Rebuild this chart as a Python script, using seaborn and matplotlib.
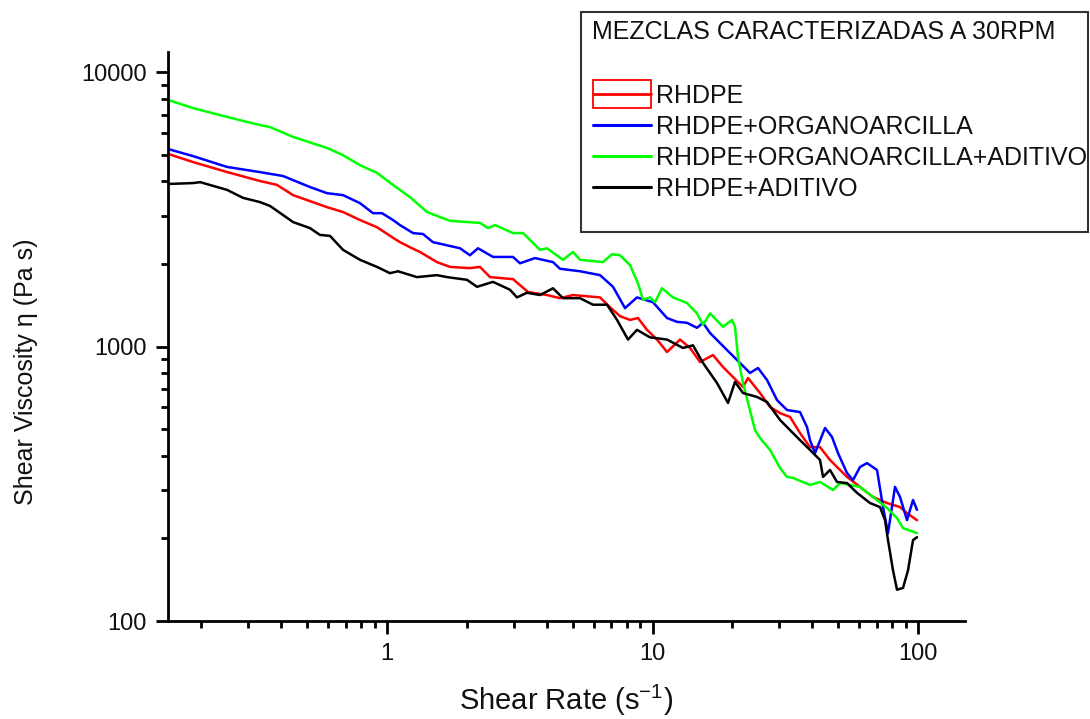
import numpy as np
import pandas as pd
import matplotlib
matplotlib.use("Agg")
import matplotlib.pyplot as plt
import seaborn as sns
from matplotlib.patches import Rectangle
from matplotlib.lines import Line2D
from matplotlib.legend_handler import HandlerBase
from matplotlib.ticker import LogLocator, NullFormatter, FixedLocator, FixedFormatter

# ---------------- data ----------------
legend_title = "MEZCLAS CARACTERIZADAS A 30RPM"
series_names = ["RHDPE", "RHDPE+ORGANOARCILLA", "RHDPE+ORGANOARCILLA+ADITIVO", "RHDPE+ADITIVO"]
series_colors = ["#FF0000", "#0000FF", "#00FF00", "#000000"]

rate_rhdpe = [0.150, 0.186, 0.250, 0.332, 0.385, 0.443, 0.594, 0.683, 0.791, 0.917, 1.053, 1.119, 1.221, 1.331,
              1.543, 1.727, 2.053, 2.240, 2.443, 2.982, 3.397, 4.005, 4.483, 5.018, 6.344, 6.919, 7.545, 8.228,
              8.817, 9.535, 10.40, 11.34, 12.70, 13.85, 15.10, 16.90, 18.43, 20.10, 21.92, 22.89, 25.41, 27.71,
              30.22, 32.96, 35.94, 39.19, 42.75, 46.62, 49.54, 54.02, 60.47, 67.69, 76.43, 85.55, 90.90, 99.13]
visc_rhdpe = [5030, 4700, 4320, 4010, 3880, 3560, 3220, 3090, 2890, 2720, 2490, 2400, 2300, 2210,
              2030, 1950, 1930, 1950, 1790, 1760, 1580, 1540, 1500, 1540, 1510, 1390, 1290, 1250,
              1270, 1150, 1060, 955, 1060, 988, 878, 931, 842, 774, 712, 768, 677, 602,
              572, 554, 484, 430, 430, 386, 364, 335, 308, 283, 269, 260, 247, 233]

rate_org = [0.150, 0.186, 0.250, 0.332, 0.406, 0.513, 0.594, 0.683, 0.791, 0.886, 0.958, 1.053, 1.119, 1.253,
            1.366, 1.490, 1.884, 2.053, 2.202, 2.508, 2.982, 3.169, 3.609, 4.219, 4.483, 5.333, 6.344, 7.102,
            7.879, 8.741, 10.04, 11.34, 12.37, 13.49, 14.71, 15.50, 16.47, 19.08, 21.36, 23.29, 24.97, 27.00,
            29.44, 32.11, 35.94, 38.18, 39.19, 40.94, 44.65, 47.44, 49.97, 54.02, 56.90, 60.47, 64.26, 70.08,
            73.83, 77.09, 81.91, 85.55, 90.90, 95.76, 99.13]
visc_org = [5240, 4940, 4510, 4320, 4180, 3810, 3620, 3560, 3330, 3060, 3060, 2890, 2770, 2590,
            2570, 2400, 2280, 2150, 2280, 2120, 2120, 2010, 2100, 2030, 1920, 1880, 1820, 1650,
            1380, 1510, 1450, 1270, 1230, 1220, 1170, 1220, 1120, 971, 871, 801, 835, 755,
            638, 587, 577, 509, 456, 409, 505, 468, 409, 346, 326, 364, 376, 355,
            260, 209, 308, 283, 233, 276, 254]

rate_org_ad = [0.150, 0.186, 0.250, 0.332, 0.363, 0.443, 0.594, 0.683, 0.791, 0.917, 1.053, 1.119, 1.221, 1.415,
               1.727, 2.240, 2.402, 2.552, 2.982, 3.253, 3.770, 4.005, 4.601, 5.018, 5.333, 6.511, 7.040, 7.545,
               8.228, 8.817, 9.210, 9.786, 10.22, 10.86, 11.95, 13.49, 14.71, 15.50, 16.47, 18.43, 19.93, 20.45,
               20.99, 21.92, 24.33, 25.41, 27.71, 30.22, 32.11, 33.83, 39.19, 42.75, 47.85, 50.84, 55.44, 60.47,
               67.69, 76.43, 83.35, 87.80, 99.13]
visc_org_ad = [7910, 7390, 6860, 6410, 6300, 5800, 5290, 4980, 4580, 4290, 3880, 3720, 3500, 3090,
               2870, 2820, 2700, 2770, 2590, 2590, 2250, 2280, 2070, 2210, 2070, 2030, 2170, 2150,
               1980, 1700, 1480, 1510, 1450, 1630, 1510, 1440, 1320, 1200, 1320, 1180, 1250, 1180,
               916, 736, 496, 464, 420, 361, 335, 332, 313, 321, 300, 318, 313, 308,
               283, 258, 237, 218, 209]

rate_ad = [0.150, 0.186, 0.198, 0.250, 0.287, 0.332, 0.363, 0.443, 0.513, 0.559, 0.610, 0.683, 0.791, 0.917,
           1.026, 1.100, 1.297, 1.543, 1.683, 2.001, 2.183, 2.508, 2.906, 3.087, 3.368, 3.770, 4.219, 4.601,
           5.333, 5.970, 6.741, 7.352, 8.087, 8.741, 9.786, 11.34, 13.03, 14.21, 15.50, 17.50, 19.25, 20.45,
           21.92, 24.75, 27.00, 30.22, 32.96, 35.94, 39.19, 42.75, 43.88, 46.62, 49.54, 54.02, 58.92, 65.95,
           71.93, 75.12, 77.09, 80.50, 83.35, 87.80, 91.69, 95.76, 99.13]
visc_ad = [3910, 3940, 3970, 3720, 3480, 3360, 3250, 2840, 2700, 2550, 2530, 2250, 2070, 1950,
           1850, 1880, 1790, 1820, 1790, 1750, 1650, 1720, 1610, 1510, 1570, 1540, 1630, 1500,
           1500, 1420, 1420, 1250, 1060, 1150, 1080, 1060, 988, 1010, 871, 736, 623, 743,
           677, 655, 628, 540, 496, 456, 420, 386, 335, 355, 321, 318, 293, 269,
           260, 233, 197, 153, 130, 132, 153, 197, 202]

x_ticks = [1, 10, 100]
x_ticklabels = ["1", "10", "100"]
y_ticks = [100, 1000, 10000]
y_ticklabels = ["100", "1000", "10000"]

# ---------------- style ----------------
sns.set_style("white")
plt.rcParams['font.family'] = ['Liberation Sans', 'DejaVu Sans']

W, H = 1090, 719
fig = plt.figure(figsize=(W / 100, H / 100), dpi=100)
ax = fig.add_axes([168 / W, 1 - 621 / H, (965 - 168) / W, (621 - 52) / H])

rates = [rate_rhdpe, rate_org, rate_org_ad, rate_ad]
viscs = [visc_rhdpe, visc_org, visc_org_ad, visc_ad]
frames = []
for name, r, v in zip(series_names, rates, viscs):
    frames.append(pd.DataFrame({"rate": r, "visc": v, "serie": name}))
df = pd.concat(frames, ignore_index=True)

for name, col in zip(series_names, series_colors):
    sns.lineplot(data=df[df.serie == name], x="rate", y="visc", color=col, lw=1.8,
                 estimator=None, sort=False, ax=ax, legend=False)

ax.set_xscale("log")
ax.set_yscale("log")
ax.set_xlim(0.1497, 150.3)
ax.set_ylim(100, 11830)

for s in ["top", "right"]:
    ax.spines[s].set_visible(False)
for s in ["left", "bottom"]:
    ax.spines[s].set_color("black")
    ax.spines[s].set_linewidth(2.0)

ax.xaxis.set_major_locator(FixedLocator(x_ticks))
ax.xaxis.set_major_formatter(FixedFormatter(x_ticklabels))
ax.yaxis.set_major_locator(FixedLocator(y_ticks))
ax.yaxis.set_major_formatter(FixedFormatter(y_ticklabels))
ax.xaxis.set_minor_locator(LogLocator(base=10, subs=np.arange(2, 10), numticks=20))
ax.yaxis.set_minor_locator(LogLocator(base=10, subs=np.arange(2, 10), numticks=20))
ax.xaxis.set_minor_formatter(NullFormatter())
ax.yaxis.set_minor_formatter(NullFormatter())

ax.tick_params(which="major", direction="out", length=9, width=2.0, color="black",
               labelsize=17, labelcolor="#111111", bottom=True, left=True, pad=6.5)
ax.tick_params(which="minor", direction="out", length=5, width=2.0, color="black",
               bottom=True, left=True)
ax.grid(False)

ax.set_xlabel("Shear Rate (s$^{\\mathregular{-1}}$)", fontsize=21, color="#111111")
ax.xaxis.set_label_coords((566 - 168) / (965 - 168), -(700 - 621) / (621 - 52))
ax.xaxis.label.set_va("center")
ax.set_ylabel("Shear Viscosity η (Pa s)", fontsize=18, color="#111111")
ax.yaxis.set_label_coords(-(168 - 26) / (965 - 168), (621 - 372) / (621 - 52))
ax.yaxis.label.set_va("center")

# ---------------- legend box ----------------
box = Rectangle((581 / W, 1 - 232 / H), (1088 - 581) / W, (232 - 12) / H, transform=fig.transFigure,
                fc="white", ec="#333333", lw=1.5, zorder=5)
fig.add_artist(box)
fig.text(592 / W, 1 - 32 / H, legend_title, fontsize=18, color="#111111", va="center", ha="left", zorder=6)


class RectLineHandler(HandlerBase):
    def create_artists(self, legend, orig_handle, xdescent, ydescent, width, height, fontsize, trans):
        h = height * 1.6
        y0 = -ydescent + height / 2 - h / 2
        rect = Rectangle((-xdescent, y0), width, h, fc="none", ec=orig_handle.get_color(), lw=1.3,
                         transform=trans)
        line = Line2D([-xdescent, -xdescent + width], [-ydescent + height / 2] * 2,
                      color=orig_handle.get_color(), lw=2, transform=trans)
        return [rect, line]


handles = [Line2D([], [], color=c, lw=2.2) for c in series_colors]
leg = fig.legend(handles, series_names, loc="upper left", bbox_to_anchor=(593 / W, 1 - 84 / H),
                 frameon=False, fontsize=18, handlelength=2.3, handletextpad=0.22, labelspacing=0.28,
                 borderaxespad=0, borderpad=0, handler_map={handles[0]: RectLineHandler()})
for t in leg.get_texts():
    t.set_color("#111111")
leg.set_zorder(7)

fig.savefig("out.png", dpi=100)
